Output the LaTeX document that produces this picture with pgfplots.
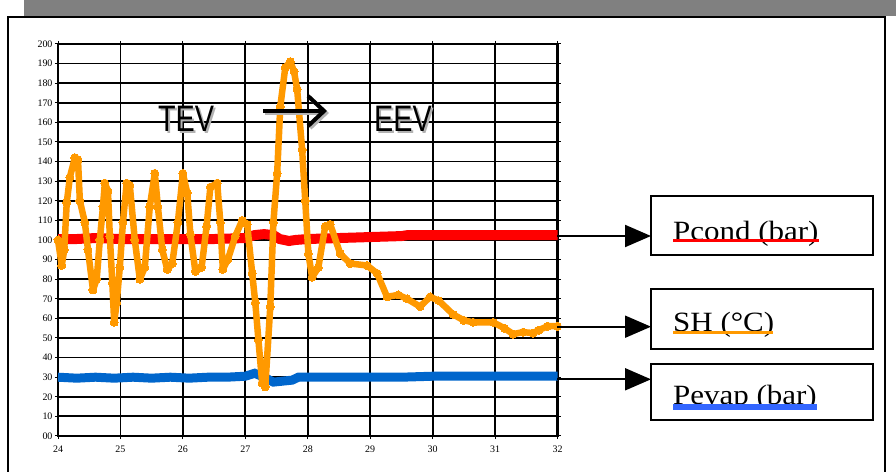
\documentclass[border=0pt]{standalone}
\usepackage{fontspec}
\setmainfont{Liberation Serif}
\newfontfamily\arialfont{Liberation Sans}
\usepackage{graphicx}
\usepackage{pgfplots}
\pgfplotsset{compat=1.18}
\usetikzlibrary{arrows.meta}
\definecolor{shorange}{RGB}{255,153,0}
\definecolor{pred}{RGB}{255,0,0}
\definecolor{pblue}{RGB}{0,102,204}
\definecolor{ulblue}{RGB}{51,102,255}
\definecolor{topgray}{RGB}{128,128,128}
\begin{document}
\begin{tikzpicture}
\path[use as bounding box] (0,0) rectangle (896bp,472bp);
\clip (0,0) rectangle (896bp,472bp);
\begin{scope}[x=1bp,y=1bp]
\fill[white] (0,0) rectangle (896,472);
\fill[topgray] (24,456) rectangle (900,476);
\draw[line width=2.5bp] (8,-20) rectangle (885,455);
\end{scope}
\begin{axis}[at={(58bp,36bp)}, anchor=south west, scale only axis,
  width=499.5bp, height=392bp,
  xmin=24, xmax=32, ymin=0, ymax=200,
  xtick={24,25,26,27,28,29,30,31,32},
  xticklabels={24,25,26,27,28,29,30,31,32},
  ytick={0,10,20,30,40,50,60,70,80,90,100,110,120,130,140,150,160,170,180,190,200},
  yticklabels={00,10,20,30,40,50,60,70,80,90,100,110,120,130,140,150,160,170,180,190,200},
  grid=major, major grid style={black, line width=1.8bp},
  axis line style={line width=2.6bp},
  tick align=outside, major tick length=3bp, tick style={black, line width=1bp},
  ticklabel style={font=\fontsize{10}{12}\selectfont},
  xticklabel style={yshift=-3bp},
  yticklabel style={xshift=1bp},
  /pgf/number format/assume math mode=true,
  clip=false]
\addplot[pred, line width=10bp] coordinates {
(24.0,100.5) (24.3,100.5) (24.6,101) (25.0,100.5) (25.5,100.5) (26.0,100.5) (26.5,100.5)
(27.0,101) (27.15,102.5) (27.3,103) (27.45,102.5) (27.55,100.5) (27.7,99.5) (27.8,100)
(28.0,100.5) (28.5,101) (29.0,101.5) (29.5,102) (29.6,102.5) (30.0,102.5) (31.0,102.5) (32.0,102.5)};
\addplot[pblue, line width=9bp] coordinates {
(24,30) (24.3,29.5) (24.6,30) (24.9,29.5) (25.2,30) (25.5,29.5) (25.8,30) (26.1,29.5)
(26.4,30) (26.7,30) (27.0,30.5) (27.15,32) (27.3,30) (27.45,27.5) (27.6,28) (27.75,28.5)
(27.85,30) (28.5,30) (29.5,30) (30,30.5) (32,30.5)};
\addplot[shorange, line width=6.5bp, line join=round, line cap=round, mark=*, mark size=4bp, mark options={fill=shorange, draw=shorange, line width=0pt}] coordinates {
(24.00,100) (24.06,87) (24.10,95) (24.14,119) (24.19,132) (24.27,142) (24.32,141)
(24.35,120) (24.43,109) (24.48,95) (24.56,74.5) (24.62,80) (24.67,100) (24.72,117)
(24.75,129) (24.80,125) (24.83,102) (24.87,78) (24.90,58) (24.94,68) (24.99,86)
(25.04,109) (25.10,129) (25.15,128) (25.23,100) (25.31,80) (25.39,86) (25.47,117)
(25.55,134) (25.60,117) (25.67,95) (25.75,85) (25.83,88) (25.92,109) (26.00,134)
(26.07,124) (26.12,103) (26.20,84) (26.30,86) (26.38,107) (26.44,127) (26.55,129)
(26.60,109) (26.64,85) (26.72,90) (26.84,102) (26.95,110) (27.03,108) (27.11,83)
(27.16,68) (27.21,49) (27.27,27) (27.32,25) (27.40,66) (27.45,109) (27.51,134)
(27.56,168) (27.64,188) (27.72,191) (27.78,186) (27.83,177) (27.91,146) (27.96,120)
(28.01,93) (28.07,81) (28.17,86) (28.28,107) (28.36,108) (28.52,93) (28.68,88)
(28.95,87) (29.11,83) (29.27,71) (29.45,72) (29.59,70) (29.80,66) (29.96,71)
(30.10,69) (30.33,62) (30.50,59) (30.65,58) (30.97,58) (31.15,55) (31.29,52)
(31.45,53) (31.61,52.5) (31.70,54) (31.84,56) (32.00,56)};
\end{axis}
\begin{scope}[x=1bp,y=1bp]
% TEV / EEV labels with shadow
\node[text=black!30, inner sep=0] at (188,351) {\scalebox{0.78}[1]{\arialfont\fontsize{37}{40}\selectfont TEV}};
\node[inner sep=0] at (186,353) {\scalebox{0.78}[1]{\arialfont\fontsize{37}{40}\selectfont TEV}};
\node[text=black!30, inner sep=0] at (405,351) {\scalebox{0.78}[1]{\arialfont\fontsize{37}{40}\selectfont EEV}};
\node[inner sep=0] at (403,353) {\scalebox{0.78}[1]{\arialfont\fontsize{37}{40}\selectfont EEV}};
\draw[black!30, line width=4bp, -{Straight Barb[length=16bp,width=30bp]}] (265,359) -- (329,359);
\draw[black, line width=4bp, -{Straight Barb[length=16bp,width=30bp]}] (263,361) -- (327,361);
% legend boxes
\draw[line width=2bp, fill=white] (651,217) rectangle (873,276);
\draw[line width=2bp, fill=white] (651,123) rectangle (873,183);
\draw[line width=2bp, fill=white] (651,52) rectangle (873,108);
\draw[line width=2bp, -{Triangle[length=26bp,width=22bp]}] (557,236) -- (651,236);
\draw[line width=2bp, -{Triangle[length=26bp,width=22bp]}] (557,145.3) -- (651,145.3);
\draw[line width=2bp, -{Triangle[length=26bp,width=22bp]}] (557,92.7) -- (651,92.7);
\node[anchor=base west, inner sep=0] at (673,232) {\scalebox{1.11}[1]{\fontsize{28}{30}\selectfont Pcond (bar)}};
\draw[pred, line width=3bp] (673,231.3) -- (819,231.3);
\node[anchor=base west, inner sep=0] at (673,140.3) {\scalebox{1.11}[1]{\fontsize{28}{30}\selectfont SH (°C)}};
\draw[shorange, line width=3bp] (673,139) -- (773,139);
\node[anchor=base west, inner sep=0] at (673,68) {\scalebox{1.11}[1]{\fontsize{28}{30}\selectfont Pevap (bar)}};
\draw[ulblue, line width=6bp] (673,65) -- (817,65);
\end{scope}
\end{tikzpicture}
\end{document}
